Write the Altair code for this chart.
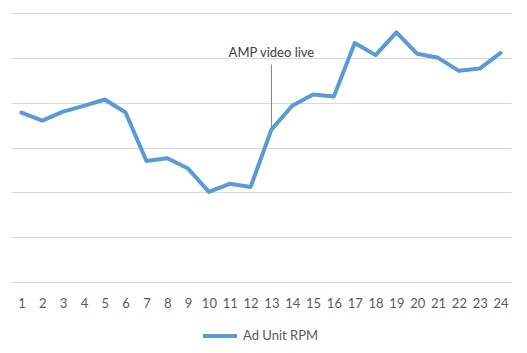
import altair as alt
import pandas as pd

hours = list(range(1, 25))
rpm = [3.78, 3.60, 3.80, 3.93, 4.07, 3.78, 2.70, 2.76, 2.53, 2.01, 2.19, 2.12,
       3.40, 3.93, 4.18, 4.14, 5.33, 5.06, 5.57, 5.09, 5.00, 4.71, 4.76, 5.11]
series_name = "Ad Unit RPM"

ann_hour = [13]
ann_label = ["AMP video live"]
ann_text_value = [5.11]
ann_rule_top = [4.85]
ann_rule_bottom = [3.46]

df = pd.DataFrame({"hour": hours, "rpm": rpm, "series": [series_name] * len(hours)})
ann = pd.DataFrame({"hour": ann_hour, "label": ann_label, "ty": ann_text_value,
                    "r1": ann_rule_top, "r2": ann_rule_bottom})

FONT = "Lato"
GREY = "#595959"

x = alt.X("hour:O", title=None,
          scale=alt.Scale(type="point", padding=0.5),
          axis=alt.Axis(labelAngle=0, ticks=False, domain=False, labelPadding=15,
                        labelColor=GREY, labelFont=FONT, labelFontSize=13))
y = alt.Y("rpm:Q", title=None, scale=alt.Scale(domain=[0, 6], nice=False),
          axis=alt.Axis(values=[0, 1, 2, 3, 4, 5, 6], labels=False, ticks=False,
                        domain=False, grid=True, gridColor="#d9d9d9"))

line = alt.Chart(df).mark_line(strokeWidth=4, strokeCap="round", strokeJoin="round").encode(
    x=x, y=y,
    color=alt.Color("series:N", title=None,
                    scale=alt.Scale(range=["#5B9BD5"]),
                    legend=alt.Legend(orient="none", legendX=190, legendY=304,
                                      symbolType="stroke", symbolSize=1156,
                                      symbolStrokeWidth=4, labelFont=FONT,
                                      labelFontSize=13, labelColor=GREY)))

rule = alt.Chart(ann).mark_rule(color="#7f7f7f", strokeWidth=1).encode(
    x="hour:O", y="r1:Q", y2="r2:Q")

text = alt.Chart(ann).mark_text(font=FONT, fontSize=13, color="#404040",
                                align="center", baseline="middle").encode(
    x="hour:O", y="ty:Q", text="label:N")

chart = alt.layer(line, rule, text).properties(
    width=500, height=269,
    autosize=alt.AutoSizeParams(type="none"),
    padding={"left": 11, "top": 13, "right": 16, "bottom": 71},
    background="white",
).configure_view(stroke=None)

chart.save("out.html", embed_options={"renderer": "svg", "actions": False})
